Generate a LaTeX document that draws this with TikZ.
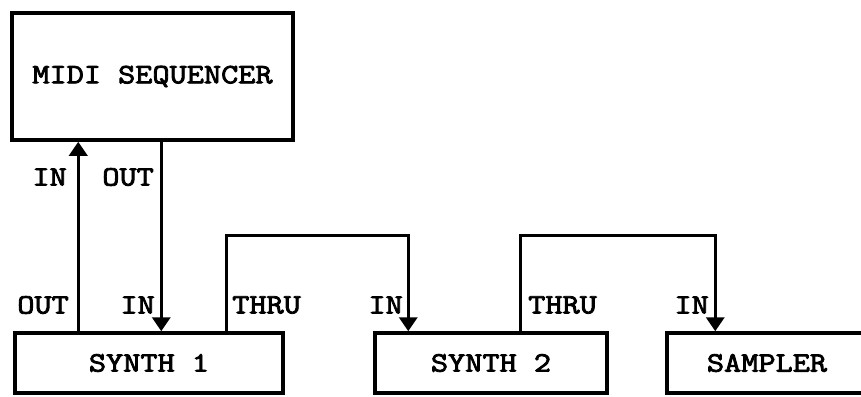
\documentclass[tikz,border=0pt]{standalone}
\usepackage{fontspec}
\newfontfamily\courfont{Latin Modern Mono}[FakeStretch=1.19,FakeBold=3]
\usetikzlibrary{arrows.meta,calc}
\begin{document}
\begin{tikzpicture}[x=1pt,y=-1pt,
  box/.style={draw,line width=3.5pt,inner sep=0pt,font=\courfont\fontsize{28}{30}\selectfont},
  lbl/.style={inner sep=0pt,font=\courfont\fontsize{28}{30}\selectfont},
  arr/.style={line width=3.5pt,-{Triangle[length=14pt,width=18pt]}}]
\useasboundingbox (0,0) rectangle (861,396);
\node[box,minimum width=281pt,minimum height=127pt] (seq) at (152.5,76.5) {MIDI SEQUENCER};
\node[box,minimum width=268pt,minimum height=60pt] (s1) at (149,363) {SYNTH 1};
\node[box,minimum width=232pt,minimum height=60pt] (s2) at (491,363) {SYNTH 2};
\node[box,minimum width=200pt,minimum height=60pt] (smp) at (767,363) {SAMPLER};
% sequencer <-> synth 1
\coordinate (a1) at ([xshift=65pt]s1.north west);
\draw[arr] (a1) -- (a1 |- seq.south);
\coordinate (a2) at ([xshift=151pt]seq.south west);
\draw[arr] (a2) -- (a2 |- s1.north);
% thru synth1 -> synth2
\coordinate (t1) at ([xshift=213pt]s1.north west);
\coordinate (i2) at ([xshift=35pt]s2.north west);
\draw[arr] (t1) -- ++(0,-96) -| (i2);
% thru synth2 -> sampler
\coordinate (t2) at ([xshift=147pt]s2.north west);
\coordinate (i3) at ([xshift=50pt]smp.north west);
\draw[arr] (t2) -- ++(0,-96) -| (i3);
% labels
\node[lbl,anchor=east] (lin) at (67,177) {IN};
\node[lbl,anchor=east] (lout) at (154,177) {OUT};
\node[lbl,anchor=east] (l1) at (69,305) {OUT};
\node[lbl,anchor=east] (l2) at (155,305) {IN};
\node[lbl,anchor=west] (l3) at (232,305) {THRU};
\node[lbl,anchor=east] (l4) at (403,305) {IN};
\node[lbl,anchor=west] (l5) at (528,305) {THRU};
\node[lbl,anchor=east] (l6) at (709,305) {IN};
\end{tikzpicture}
\end{document}
